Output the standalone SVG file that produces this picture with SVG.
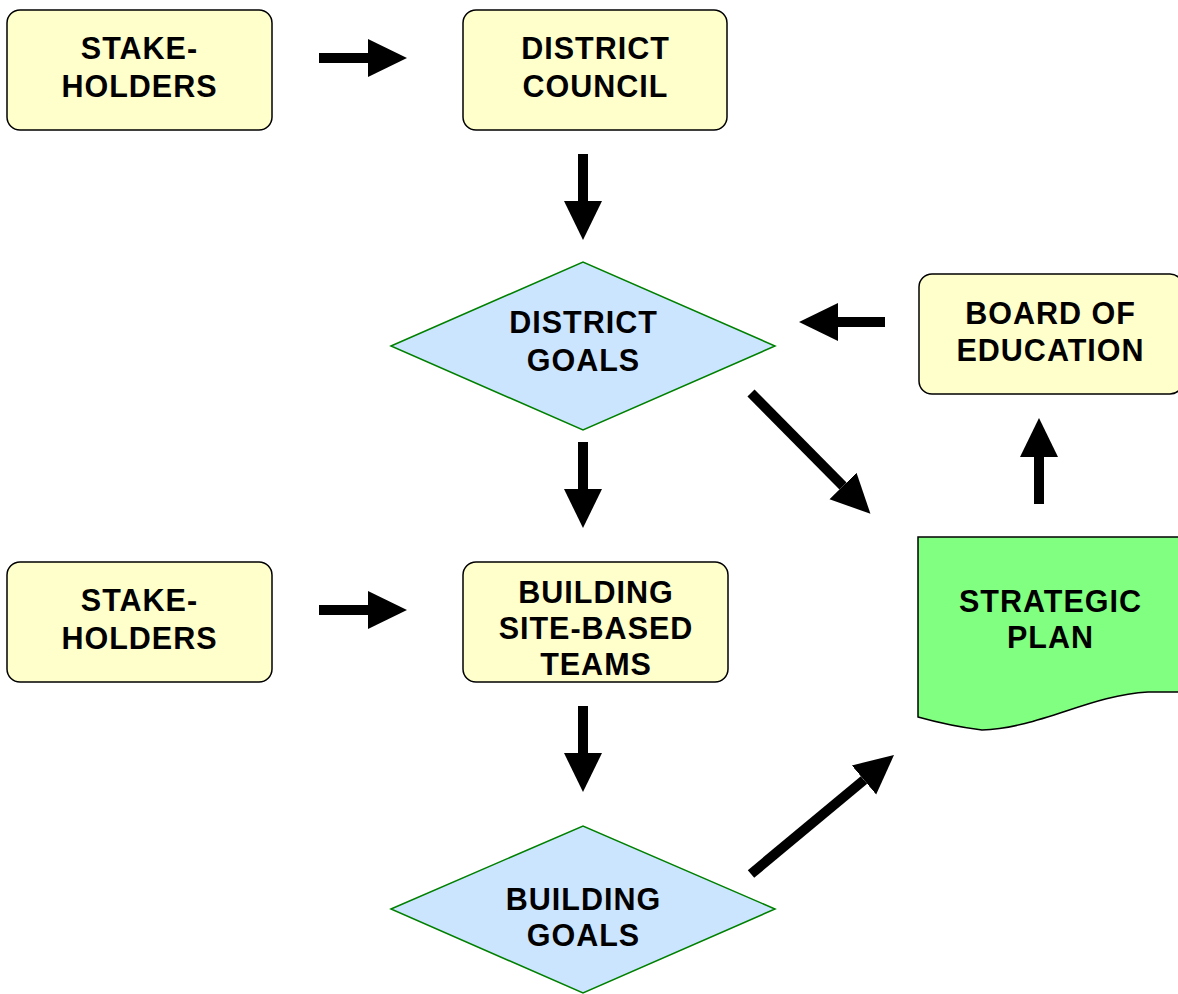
<svg xmlns="http://www.w3.org/2000/svg" width="1178" height="994" viewBox="0 0 1178 994">
<style>
.box{fill:#FFFFCC;stroke:#000;stroke-width:1.5}
.dia{fill:#CCE5FF;stroke:#008000;stroke-width:1.5}
.doc{fill:#80FF80;stroke:#000;stroke-width:1.5}
.t{font-family:"Liberation Sans",Arial,sans-serif;font-weight:bold;font-size:30.5px;letter-spacing:1px;fill:#000;text-anchor:middle}
.c{stroke:#000;stroke-width:10;fill:none;marker-end:url(#ah)}
</style>
<defs>
<marker id="ah" markerUnits="userSpaceOnUse" markerWidth="40" markerHeight="40" viewBox="0 0 40 40" refX="0" refY="20" orient="auto">
<path d="M0,1 L39,20 L0,39 Z" fill="#000"/>
</marker>
</defs>
<rect width="1178" height="994" fill="#fff"/>
<g id="connectors">
<line class="c" x1="319" y1="58" x2="368" y2="58"/>
<line class="c" x1="583" y1="154" x2="583" y2="201"/>
<line class="c" x1="885" y1="322" x2="838" y2="322"/>
<line class="c" x1="583" y1="442" x2="583" y2="489"/>
<line class="c" x1="319" y1="610" x2="368" y2="610"/>
<line class="c" x1="583" y1="706" x2="583" y2="753"/>
<line class="c" x1="1039" y1="504" x2="1039" y2="457"/>
<line class="c" x1="751" y1="393" x2="843" y2="486"/>
<line class="c" x1="751" y1="874" x2="864" y2="780"/>
</g>
<g id="stakeholders1">
<rect class="box" x="7" y="10" width="265" height="120" rx="13"/>
<text class="t" x="139.5" y="59">STAKE-</text>
<text class="t" x="139.5" y="97">HOLDERS</text>
</g>
<g id="district-council">
<rect class="box" x="463" y="10" width="264" height="120" rx="13"/>
<text class="t" x="595.5" y="59">DISTRICT</text>
<text class="t" x="595.5" y="97">COUNCIL</text>
</g>
<g id="district-goals">
<polygon class="dia" points="391,346 583,262 775,346 583,430"/>
<text class="t" x="583.5" y="333">DISTRICT</text>
<text class="t" x="583.5" y="371">GOALS</text>
</g>
<g id="board-of-education">
<rect class="box" x="919" y="274" width="264" height="120" rx="13"/>
<text class="t" x="1050.5" y="324">BOARD OF</text>
<text class="t" x="1050.5" y="361">EDUCATION</text>
</g>
<g id="stakeholders2">
<rect class="box" x="7" y="562" width="265" height="120" rx="13"/>
<text class="t" x="139.5" y="611">STAKE-</text>
<text class="t" x="139.5" y="649">HOLDERS</text>
</g>
<g id="building-teams">
<rect class="box" x="463" y="562" width="265" height="120" rx="13"/>
<text class="t" x="596" y="603">BUILDING</text>
<text class="t" x="596" y="639">SITE-BASED</text>
<text class="t" x="596" y="675">TEAMS</text>
</g>
<g id="strategic-plan">
<path class="doc" d="M918,537 L1185,537 L1185,692 L1148,692 C1090,695 1040,728 982,730 Q950,726 918,717 Z"/>
<text class="t" x="1050.5" y="612">STRATEGIC</text>
<text class="t" x="1050.5" y="648">PLAN</text>
</g>
<g id="building-goals">
<polygon class="dia" points="391,909 583,826 775,909 583,993"/>
<text class="t" x="583.5" y="910">BUILDING</text>
<text class="t" x="583.5" y="946">GOALS</text>
</g>
</svg>
